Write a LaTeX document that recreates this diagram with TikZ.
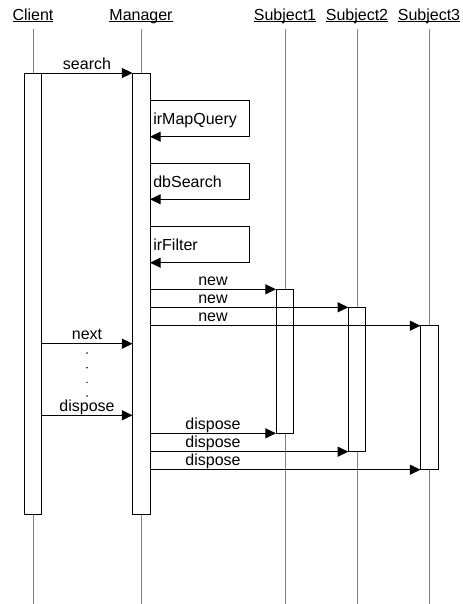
\documentclass[tikz,border=0pt]{standalone}
\usepackage{fontspec}
\setmainfont{Liberation Sans}
\usetikzlibrary{arrows.meta}
% underlined object name, the rule at a fixed depth below the baseline
\newcommand\objname[1]{\setbox0=\hbox{#1}\rlap{\rule[-1.6pt]{\wd0}{0.75pt}}\box0}
\begin{document}
\begin{tikzpicture}[x=0.75pt,y=-0.75pt,
  lifeline/.style={draw={rgb,255:red,128;green,128;blue,128}, line width=0.75pt},
  bar/.style={draw=black, fill=white, line width=0.75pt},
  msg/.style={draw=black, line width=0.75pt, -{Triangle[length=8pt,width=7.5pt]}},
  lbl/.style={font=\fontsize{12}{14}\selectfont, inner sep=0pt, anchor=base},
  selflbl/.style={lbl, anchor=base west}]
\useasboundingbox (0,0) rectangle (462,604);

% object headers
\node[lbl] (hClient)  at (33,20)    {\objname{Client}};
\node[lbl] (hManager) at (141,20)   {\objname{Manager}};
\node[lbl] (hSubj1)   at (285,20)   {\objname{Subject1}};
\node[lbl] (hSubj2)   at (357,20)   {\objname{Subject2}};
\node[lbl] (hSubj3)   at (429,20)   {\objname{Subject3}};

% lifelines
\foreach \n/\x in {c/33, m/141, s1/285, s2/357, s3/429}{
  \coordinate (\n Top) at (\x,29);
  \coordinate (\n Bot) at (\x,604);
  \draw[lifeline] (\n Top) -- (\n Bot);
}

% activation bars
\coordinate (caTL) at (24,73);     \coordinate (caBR) at (41.5,514);
\coordinate (maTL) at (132.5,73);  \coordinate (maBR) at (150,514);
\coordinate (s1TL) at (276,289.3); \coordinate (s1BR) at (293.5,433.3);
\coordinate (s2TL) at (348.3,307.3); \coordinate (s2BR) at (365.8,451.7);
\coordinate (s3TL) at (420.5,325.7); \coordinate (s3BR) at (438,469.7);
\foreach \b in {ca, ma, s1, s2, s3}{
  \draw[bar] (\b TL) rectangle (\b BR);
}

% search
\draw[msg] (caTL -| caBR) -- (maTL);
\node[lbl] (lSearch) at (87,69) {search};

% self calls on the manager
\coordinate (selfX) at (249,0);
\foreach \t/\b/\name/\txt in {100.7/136.7/sq/irMapQuery, 163.3/199.3/sd/dbSearch, 226.7/262.7/sf/irFilter}{
  \coordinate (\name T) at (0,\t);
  \coordinate (\name B) at (0,\b);
  \draw[msg] (maBR |- \name T) -- (selfX |- \name T) -- (selfX |- \name B) -- (maBR |- \name B);
  \node[selflbl] (l\name) at ([xshift=2.3pt]maBR |- 0,\t+24) {\txt};
}

% creation messages
\draw[msg] (maBR |- s1TL) -- (s1TL);
\draw[msg] (maBR |- s2TL) -- (s2TL);
\draw[msg] (maBR |- s3TL) -- (s3TL);
\node[lbl] (lNew1) at (213,285.3) {new};
\node[lbl] (lNew2) at (213,303.3) {new};
\node[lbl] (lNew3) at (213,321.7) {new};

% client iteration
\coordinate (yNext) at (0,343.7);
\coordinate (yDisp) at (0,415.3);
\draw[msg] (caBR |- yNext) -- (maTL |- yNext);
\node[lbl] (lNext) at (87,339.7) {next};
\foreach \y in {353,367.7,382.3,396}{
  \fill (87,\y) circle[radius=0.8];
}
\draw[msg] (caBR |- yDisp) -- (maTL |- yDisp);
\node[lbl] (lDispC) at (87,411.3) {dispose};

% disposal messages
\draw[msg] (maBR |- s1BR) -- (s1TL |- s1BR);
\draw[msg] (maBR |- s2BR) -- (s2TL |- s2BR);
\draw[msg] (maBR |- s3BR) -- (s3TL |- s3BR);
\node[lbl] (lDisp1) at (213,429.3) {dispose};
\node[lbl] (lDisp2) at (213,447.7) {dispose};
\node[lbl] (lDisp3) at (213,465.7) {dispose};
\end{tikzpicture}
\end{document}
